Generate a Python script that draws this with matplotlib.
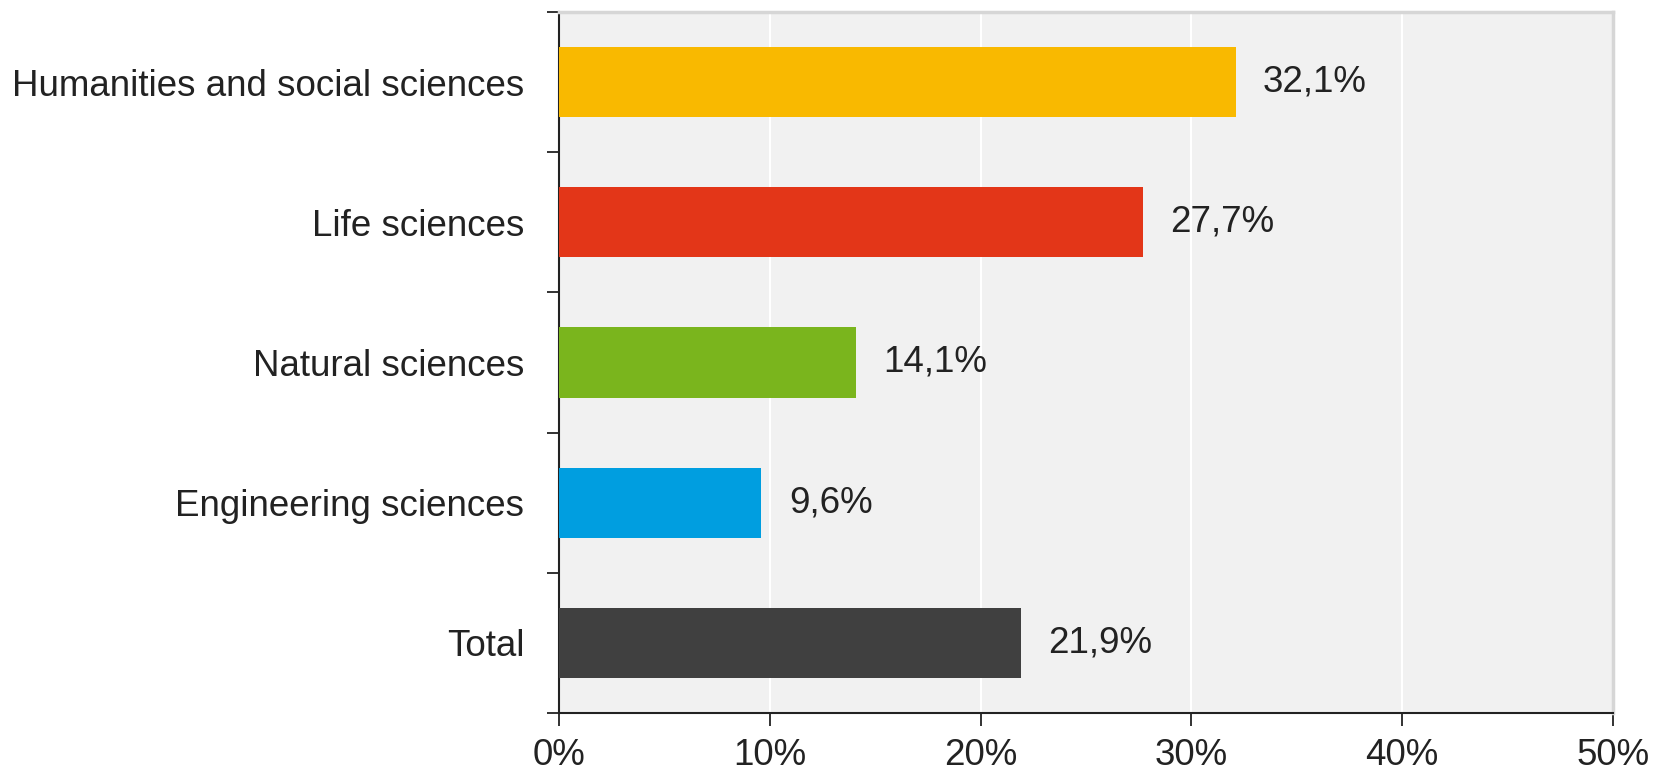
import matplotlib.pyplot as plt
from matplotlib.ticker import FixedLocator

plt.rcParams['font.family'] = ['Liberation Sans', 'DejaVu Sans']

# Data (top to bottom as shown)
categories = ['Humanities and social sciences', 'Life sciences', 'Natural sciences',
              'Engineering sciences', 'Total']
values = [32.1, 27.7, 14.1, 9.6, 21.9]
colors = ['#F9B900', '#E33618', '#7AB51D', '#009EE0', '#404040']
xticks = [0, 10, 20, 30, 40, 50]

fs = 26.5
fig = plt.figure(figsize=(16.64, 7.72), dpi=100)
ax = fig.add_axes([559 / 1664, 1 - 713 / 772, 1054 / 1664, 701 / 772])
ax.set_facecolor('#f1f1f1')

pos = list(range(len(categories)))[::-1]
ax.barh(pos, values, height=0.5, color=colors, zorder=3)

for p, v in zip(pos, values):
    ax.text(v + 1.3, p, f'{v:.1f}%'.replace('.', ','), va='center', ha='left',
            fontsize=fs, color='#222222', zorder=4)

ax.set_xlim(0, 50)
ax.set_ylim(-0.5, len(categories) - 0.5)
ax.set_xticks(xticks)
ax.set_xticklabels([f'{t}%' for t in xticks])
ax.grid(axis='x', color='white', linewidth=1.5, zorder=1)

# category labels centred on bars, ticks at boundaries
ax.set_yticks(pos)
ax.set_yticklabels(categories)
ax.tick_params(axis='y', which='major', length=0, pad=25, labelsize=fs, labelcolor='#222222')
ax.yaxis.set_minor_locator(FixedLocator([p - 0.5 for p in range(len(categories) + 1)]))
ax.tick_params(axis='y', which='minor', length=9, width=1.3, color='#222222')
ax.tick_params(axis='x', length=9, width=1.3, color='#222222', pad=9, labelsize=fs,
               labelcolor='#222222')

for s in ['left', 'bottom']:
    ax.spines[s].set_color('#222222')
    ax.spines[s].set_linewidth(1.5)
for s in ['top', 'right']:
    ax.spines[s].set_color('#d6d6d6')
    ax.spines[s].set_linewidth(2.5)

fig.savefig('out.png', dpi=100, facecolor='white')
